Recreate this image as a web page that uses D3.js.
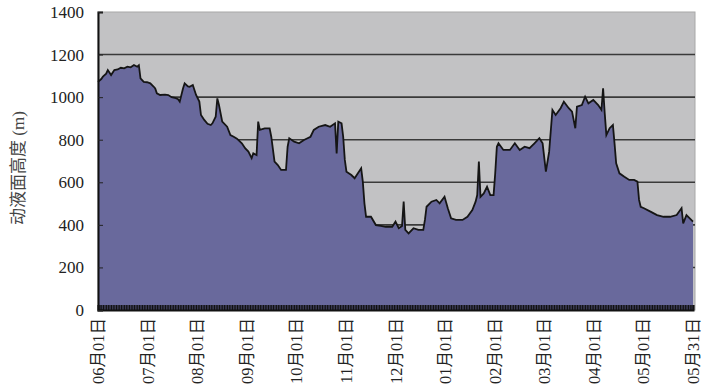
<!DOCTYPE html>
<html>
<head>
<meta charset="utf-8">
<script src="https://cdn.jsdelivr.net/npm/d3@7"></script>
<style>
  body { margin: 0; background: #fff; }
  text { font-family: "Liberation Serif", "Noto Sans CJK SC", serif; }
</style>
</head>
<body>
<div id="my_dataviz"></div>
<script>
// day index counted from 06月01日, and the fluid level (m)
const days = [0, 2, 3, 5, 6, 8, 10, 12, 14, 16, 18, 20, 22, 24, 25, 26, 28, 30, 32, 34, 35, 36, 38, 41, 43, 45, 47, 49, 50, 52, 53, 55, 56, 58, 60, 62, 63, 65, 67, 69, 70, 72, 73, 74, 76, 79, 81, 83, 85, 88, 90, 92, 94, 95, 97, 98, 99, 102, 105, 106, 108, 110, 112, 115, 116, 117, 120, 123, 126, 130, 132, 135, 139, 142, 145, 146, 147, 149, 150, 151, 152, 155, 157, 159, 161, 162, 163, 164, 167, 170, 173, 176, 180, 182, 184, 186, 187, 188, 190, 193, 196, 199, 200, 201, 204, 207, 209, 212, 214, 216, 219, 223, 226, 229, 231, 232, 233, 234, 236, 238, 240, 242, 243, 244, 245, 248, 252, 255, 258, 261, 264, 267, 270, 272, 274, 276, 278, 280, 283, 285, 288, 290, 292, 293, 296, 298, 300, 303, 306, 308, 309, 310, 311, 313, 315, 316, 317, 319, 322, 325, 328, 330, 331, 332, 334, 338, 342, 346, 350, 354, 357, 358, 360, 362, 364];
const level = [1072, 1085, 1096, 1110, 1127, 1104, 1127, 1130, 1138, 1135, 1143, 1140, 1151, 1143, 1150, 1088, 1072, 1070, 1065, 1050, 1041, 1018, 1010, 1012, 1010, 1000, 997, 990, 979, 1041, 1065, 1050, 1049, 1057, 1010, 979, 916, 893, 875, 869, 877, 908, 994, 963, 885, 861, 822, 814, 805, 783, 760, 744, 713, 736, 728, 885, 846, 853, 853, 814, 697, 681, 658, 658, 767, 807, 791, 783, 799, 814, 846, 861, 869, 861, 877, 736, 885, 877, 814, 705, 650, 634, 619, 642, 666, 603, 501, 438, 438, 399, 395, 391, 391, 415, 384, 395, 509, 376, 360, 384, 376, 376, 423, 485, 509, 517, 501, 532, 478, 431, 423, 423, 438, 470, 509, 540, 697, 532, 548, 579, 540, 540, 642, 767, 783, 752, 752, 783, 752, 767, 760, 783, 807, 783, 650, 744, 940, 916, 948, 979, 948, 932, 854, 955, 963, 1002, 971, 987, 963, 940, 1041, 924, 822, 854, 869, 783, 689, 642, 626, 611, 611, 603, 517, 485, 478, 462, 446, 438, 438, 446, 478, 407, 446, 431, 415];
const xLabels = ["06月01日", "07月01日", "08月01日", "09月01日", "10月01日", "11月01日", "12月01日",
                 "01月01日", "02月01日", "03月01日", "04月01日", "05月01日", "05月31日"];
const yTicks = [0, 200, 400, 600, 800, 1000, 1200, 1400];
const yTitle = "动液面高度 (m)";

const data = days.map((d, i) => ({day: d, value: level[i]}));

const margin = {top: 12, right: 17, bottom: 75, left: 98},
    width = 712 - margin.left - margin.right,
    height = 385 - margin.top - margin.bottom;

const svg = d3.select("#my_dataviz")
  .append("svg")
    .attr("width", 712)
    .attr("height", 385)
  .append("g")
    .attr("transform", `translate(${margin.left}, ${margin.top})`);

const x = d3.scaleLinear()
  .domain([0, 364])
  .range([0, width - 2]);

const y = d3.scaleLinear()
  .domain([0, 1400])
  .range([height, 0]);

// plot background
svg.append("rect")
  .attr("width", width)
  .attr("height", height)
  .attr("fill", "#c2c2c4")
  .attr("stroke", "#a8a8a8")
  .attr("stroke-width", 1);

// grid lines
svg.append("g")
  .selectAll("line")
  .data(yTicks.filter(t => t > 0 && t < 1400))
  .enter()
  .append("line")
    .attr("x1", 0)
    .attr("x2", width)
    .attr("y1", d => y(d))
    .attr("y2", d => y(d))
    .attr("stroke", "#3a3a3a")
    .attr("stroke-width", 1.6);

// area + outline
const area = d3.area()
  .x(d => x(d.day))
  .y0(y(0))
  .y1(d => y(d.value));

const line = d3.line()
  .x(d => x(d.day))
  .y(d => y(d.value));

svg.append("path")
  .datum(data)
  .attr("d", area)
  .attr("fill", "#69699c");

svg.append("path")
  .datum(data)
  .attr("d", line)
  .attr("fill", "none")
  .attr("stroke", "#151515")
  .attr("stroke-width", 1.8);

// daily ticks along the bottom (dense dark band)
svg.append("g")
  .attr("transform", `translate(0, ${height})`)
  .call(d3.axisBottom(x).tickValues(d3.range(0, 365)).tickSize(-5).tickFormat(""))
  .call(g => g.selectAll(".tick line").attr("stroke", "#111").attr("stroke-width", 1.25))
  .call(g => g.select(".domain").attr("stroke", "#111").attr("stroke-width", 2));

// x labels, evenly spaced across the axis
const xTickPos = xLabels.map((l, i) => 364 * i / (xLabels.length - 1));
svg.append("g")
  .selectAll("text")
  .data(xLabels)
  .enter()
  .append("text")
    .attr("transform", (d, i) => `translate(${x(xTickPos[i]) + 6}, ${height + 8}) rotate(-90)`)
    .attr("text-anchor", "end")
    .attr("font-size", 16.5)
    .attr("fill", "#222")
    .text(d => d);

// Y axis
svg.append("g")
  .call(d3.axisLeft(y).tickValues(yTicks).tickSize(-5).tickPadding(14).tickFormat(d3.format("d")))
  .call(g => g.select(".domain").attr("stroke", "#111").attr("stroke-width", 2))
  .call(g => g.selectAll(".tick line").attr("stroke", "#222"))
  .call(g => g.selectAll(".tick text")
      .attr("font-size", 17)
      .attr("fill", "#222")
      .attr("font-family", "Liberation Serif, serif"));

// y title
svg.append("text")
  .attr("transform", `translate(${-80}, ${156}) rotate(-90)`)
  .attr("text-anchor", "middle")
  .attr("dy", "0.35em")
  .attr("font-size", 17)
  .attr("fill", "#444")
  .text(yTitle);
</script>
</body>
</html>
